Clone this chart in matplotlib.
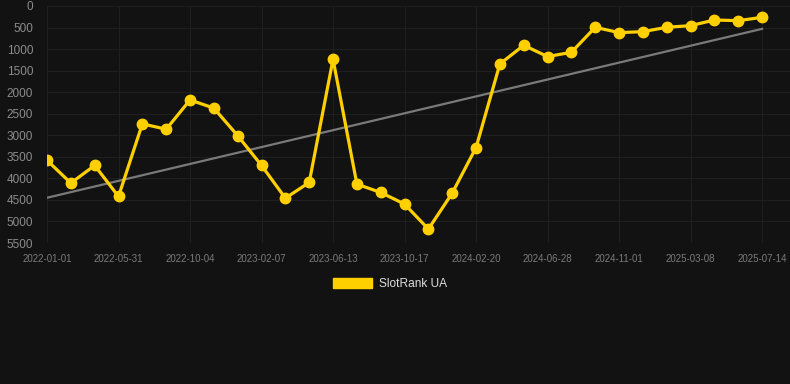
import matplotlib
matplotlib.use('Agg')
import matplotlib.pyplot as plt
from matplotlib.patches import Patch

# rank values, one point per step
ranks = [3580, 4110, 3700, 4420, 2735, 2860, 2180, 2370, 3010, 3700,
         4460, 4095, 1236, 4134, 4327, 4597, 5177, 4342, 3284, 1344,
         912, 1174, 1074, 494, 618, 595, 494, 456, 325, 340, 263]
tick_labels = ['2022-01-01', '2022-05-31', '2022-10-04', '2023-02-07', '2023-06-13',
               '2023-10-17', '2024-02-20', '2024-06-28', '2024-11-01', '2025-03-08',
               '2025-07-14']
trend_ends = [4450, 530]
y_ticks = [0, 500, 1000, 1500, 2000, 2500, 3000, 3500, 4000, 4500, 5000, 5500]

BG = '#121212'
GOLD = '#FFD000'

plt.rcParams['font.family'] = ['Liberation Sans', 'DejaVu Sans']

fig = plt.figure(figsize=(7.9, 3.84), dpi=100, facecolor=BG)
ax = fig.add_axes([47 / 790, 1 - 243 / 384, 1 - 47 / 790, (243 - 6) / 384])
ax.set_facecolor(BG)

x = list(range(len(ranks)))
ax.plot([x[0], x[-1]], trend_ends, color='#7a7a7a', lw=1.6, zorder=2)
ax.plot(x, ranks, color=GOLD, lw=2.3, marker='o', markersize=7.5,
        solid_joinstyle='miter', zorder=3)

ax.set_xlim(0, 31.17)
ax.set_ylim(5500, 0)
ax.set_yticks(y_ticks)
ax.set_xticks(x[::3])
ax.set_xticklabels(tick_labels)

ax.grid(True, color='#1f1f1f', lw=0.8)
ax.set_axisbelow(True)
for s in ax.spines.values():
    s.set_visible(False)
ax.tick_params(axis='y', length=0, pad=10, labelsize=8.5, labelcolor='#8c8c8c')
ax.tick_params(axis='x', length=0, pad=8, labelsize=7, labelcolor='#7a7a7a')

fig.legend(handles=[Patch(facecolor=GOLD, edgecolor=GOLD)], labels=['SlotRank UA'],
           loc='center', bbox_to_anchor=(390 / 790, 1 - 284 / 384), frameon=False,
           handlelength=3.3, handleheight=1.0, handletextpad=0.55,
           fontsize=8.6, labelcolor='#dddddd')

fig.savefig('out.png', dpi=100, facecolor=BG)
